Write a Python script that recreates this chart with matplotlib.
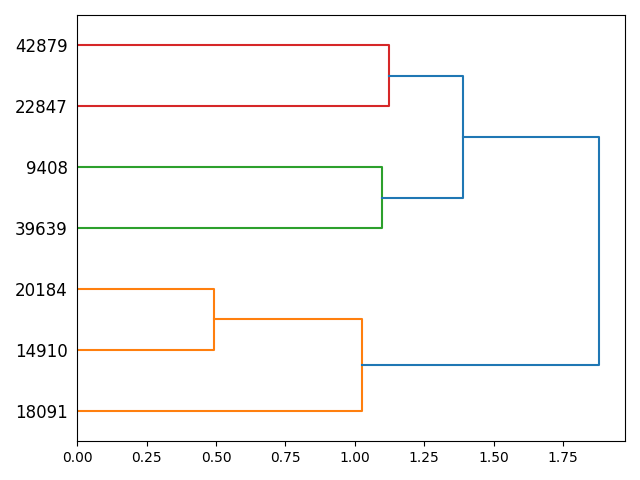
import matplotlib
matplotlib.use("Agg")
import matplotlib.pyplot as plt

# Leaves, bottom to top
labels = ["18091", "14910", "20184", "39639", "9408", "22847", "42879"]

# Merge heights (distances)
d_orange_low = 0.493
d_orange_high = 1.026
d_green = 1.098
d_red = 1.123
d_blue_low = 1.390
d_blue_top = 1.880

# leaf positions like scipy: 5, 15, 25, ...
pos = [5 + 10 * i for i in range(len(labels))]

# each link: (y list, x list, colour) -- drawn as a U shape, open to the left
links = [
    # 14910 + 20184
    ([pos[1], pos[1], pos[2], pos[2]], [0, d_orange_low, d_orange_low, 0], "C1"),
    # 18091 + (14910, 20184)
    ([pos[0], pos[0], (pos[1] + pos[2]) / 2, (pos[1] + pos[2]) / 2],
     [0, d_orange_high, d_orange_high, d_orange_low], "C1"),
    # 39639 + 9408
    ([pos[3], pos[3], pos[4], pos[4]], [0, d_green, d_green, 0], "C2"),
    # 22847 + 42879
    ([pos[5], pos[5], pos[6], pos[6]], [0, d_red, d_red, 0], "C3"),
    # green + red
    ([(pos[3] + pos[4]) / 2, (pos[3] + pos[4]) / 2, (pos[5] + pos[6]) / 2, (pos[5] + pos[6]) / 2],
     [d_green, d_blue_low, d_blue_low, d_red], "C0"),
]
orange_mid = (pos[0] + (pos[1] + pos[2]) / 2) / 2
upper_mid = ((pos[3] + pos[4]) / 2 + (pos[5] + pos[6]) / 2) / 2
links.append(([orange_mid, orange_mid, upper_mid, upper_mid],
              [d_orange_high, d_blue_top, d_blue_top, d_blue_low], "C0"))

fig, ax = plt.subplots(figsize=(6.4, 4.8))
for ys, xs, col in links:
    ax.plot(xs, ys, color=col, linewidth=1.5)

ax.set_ylim(0, 10 * len(labels))
ax.set_xlim(0, d_blue_top * 1.05)
ax.set_yticks(pos)
ax.set_yticklabels(labels, fontsize=12)
# hide the tick marks but keep their space, like scipy does
for line in ax.get_yticklines():
    line.set_visible(False)

plt.tight_layout()
plt.savefig("out.png", dpi=100)
